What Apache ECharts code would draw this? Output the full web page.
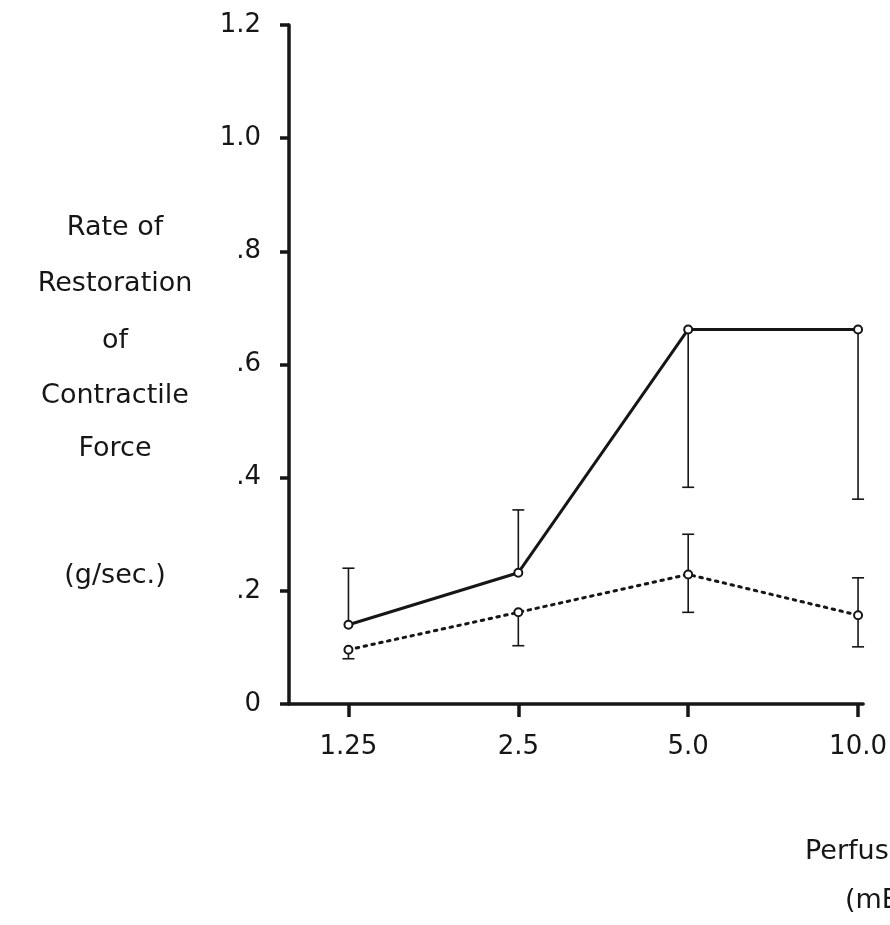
<!DOCTYPE html>
<html>
<head>
<meta charset="utf-8">
<script src="https://cdn.jsdelivr.net/npm/echarts@6/dist/echarts.min.js"></script>
<style>
  html, body { margin: 0; padding: 0; background: #fff; }
  #chart { width: 890px; height: 925px; }
</style>
</head>
<body>
<div id="chart"></div>
<script>
// perfusate concentrations (category positions 0..3)
const doses = ['1.25', '2.5', '5.0', '10.0']
const yTicks = ['0', '.2', '.4', '.6', '.8', '1.0', '1.2']

// solid line series: mean and one-sided error bar ends
const solidMeans = [0.14, 0.232, 0.662, 0.662]
const solidUpper = [0.24, 0.343, null, null]
const solidLower = [null, null, 0.383, 0.362]

// dotted line series
const dottedMeans = [0.096, 0.162, 0.229, 0.157]
const dottedUpper = [null, null, 0.30, 0.223]
const dottedLower = [0.08, 0.103, 0.162, 0.101]

const yNameLines = ['Rate of', 'Restoration', 'of', 'Contractile', 'Force']
const yUnit = '(g/sec.)'
const xNameLines = ['Perfusate K\u207A', '(mEq/L)']

const FONT = 'DejaVu Sans'
const INK = '#161616'

const chart = echarts.init(document.getElementById('chart'), null, { renderer: 'canvas' })

const lineData = (means) => means.map((v, i) => [i, v])

const errData = (means, upper, lower) => {
  const out = []
  means.forEach((m, i) => {
    if (upper[i] != null) out.push([i, m, upper[i]])
    if (lower[i] != null) out.push([i, m, lower[i]])
  })
  return out
}

const renderErr = (params, api) => {
  const from = api.coord([api.value(0), api.value(1)])
  const to = api.coord([api.value(0), api.value(2)])
  const cap = 6
  const style = { stroke: INK, lineWidth: 1.6 }
  return {
    type: 'group',
    children: [
      { type: 'line', shape: { x1: from[0], y1: from[1], x2: to[0], y2: to[1] }, style },
      { type: 'line', shape: { x1: to[0] - cap, y1: to[1], x2: to[0] + cap, y2: to[1] }, style }
    ]
  }
}

const label = (text, x, y, align) => ({
  type: 'text',
  x: x,
  y: y,
  style: { text: text, font: `27px "${FONT}"`, fill: INK, align: align, verticalAlign: 'middle' }
})

const graphics = []
const yNameY = [228, 284, 341, 396, 449]
yNameLines.forEach((t, i) => graphics.push(label(t, 115, yNameY[i], 'center')))
graphics.push(label(yUnit, 115, 576, 'center'))
graphics.push(label(xNameLines[0], 805, 852, 'left'))
graphics.push(label(xNameLines[1], 845, 901, 'left'))

const option = {
  backgroundColor: '#fff',
  animation: false,
  grid: { left: 289, right: 24, top: 25, bottom: 221 },
  xAxis: {
    type: 'value',
    min: -0.35,
    max: 3.03,
    splitLine: { show: false },
    axisLine: { show: true, onZero: false, lineStyle: { color: INK, width: 3.5 } },
    axisTick: { show: true, customValues: [0, 1, 2, 3], length: 13, lineStyle: { color: INK, width: 3.5 } },
    axisLabel: {
      customValues: [0, 1, 2, 3],
      formatter: (v) => doses[Math.round(v)],
      margin: 30,
      color: INK,
      fontFamily: FONT,
      fontSize: 26
    }
  },
  yAxis: {
    type: 'value',
    min: 0,
    max: 1.2,
    interval: 0.2,
    splitLine: { show: false },
    axisLine: { show: true, onZero: false, lineStyle: { color: INK, width: 3.5 } },
    axisTick: { show: true, length: 9, lineStyle: { color: INK, width: 3.5 } },
    axisLabel: {
      margin: 28,
      color: INK,
      fontFamily: FONT,
      fontSize: 26,
      formatter: (v) => yTicks[Math.round(v / 0.2)]
    }
  },
  graphic: graphics,
  series: [
    {
      type: 'custom',
      renderItem: renderErr,
      data: errData(solidMeans, solidUpper, solidLower),
      encode: { x: 0, y: [1, 2] },
      z: 1
    },
    {
      type: 'custom',
      renderItem: renderErr,
      data: errData(dottedMeans, dottedUpper, dottedLower),
      encode: { x: 0, y: [1, 2] },
      z: 1
    },
    {
      type: 'line',
      data: lineData(solidMeans),
      symbol: 'emptyCircle',
      symbolSize: 8,
      itemStyle: { color: INK, borderWidth: 2 },
      lineStyle: { color: INK, width: 3 },
      z: 3
    },
    {
      type: 'line',
      data: lineData(dottedMeans),
      symbol: 'emptyCircle',
      symbolSize: 8,
      itemStyle: { color: INK, borderWidth: 2 },
      lineStyle: { color: INK, width: 3, type: [2.5, 5.5], cap: 'round' },
      z: 3
    }
  ]
}

chart.setOption(option)
</script>
</body>
</html>
